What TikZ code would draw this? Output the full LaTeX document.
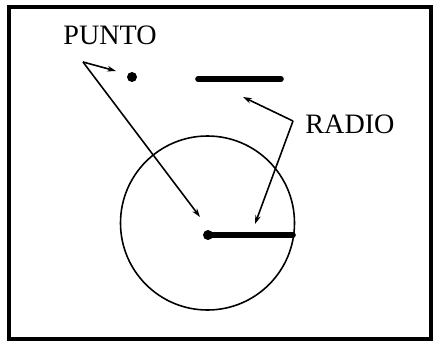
\documentclass[tikz,border=0pt]{standalone}
\usepackage{fontspec}
\setmainfont{Liberation Serif}
\usetikzlibrary{arrows.meta, positioning, calc}

\begin{document}
\begin{tikzpicture}[x=0.2mm, y=-0.2mm,
  every node/.style={font=\fontsize{16}{18}\selectfont},
  lead/.style={line width=0.9pt, -{Stealth[length=5pt, width=3.2pt]}},
  bar/.style={line width=3.2pt, line cap=round},
  blob/.style={circle, fill, inner sep=0pt, minimum size=2mm}]
\useasboundingbox (0,0) rectangle (434,341);
% frame
\draw[line width=1.8pt, fill=white] (9,7) rectangle (431,339);
% labels
\node (punto) at (110,35) {PUNTO};
\node (radio) at (350,124) {RADIO};
% the point and the segment on their own
\node[blob] (dot) at (132,77) {};
\draw[bar] (198,79) -- (281,79);
% circle with centre and radius
\draw[line width=0.9pt] (207.5,223) circle (87);
\node[blob] (cdot) at (208,235) {};
\draw[bar] (cdot.center) -- (293,235);
% leader lines
\coordinate (pv) at (83,62);
\coordinate (rv) at (293,121);
\coordinate (pa) at (116,71);
\coordinate (pb) at (200,217);
\coordinate (ra) at (243,97);
\coordinate (rb) at (255,224);
\draw[lead] (pv) -- (pa);
\draw[lead] (pv) -- (pb);
\draw[lead] (rv) -- (ra);
\draw[lead] (rv) -- (rb);
\end{tikzpicture}
\end{document}
